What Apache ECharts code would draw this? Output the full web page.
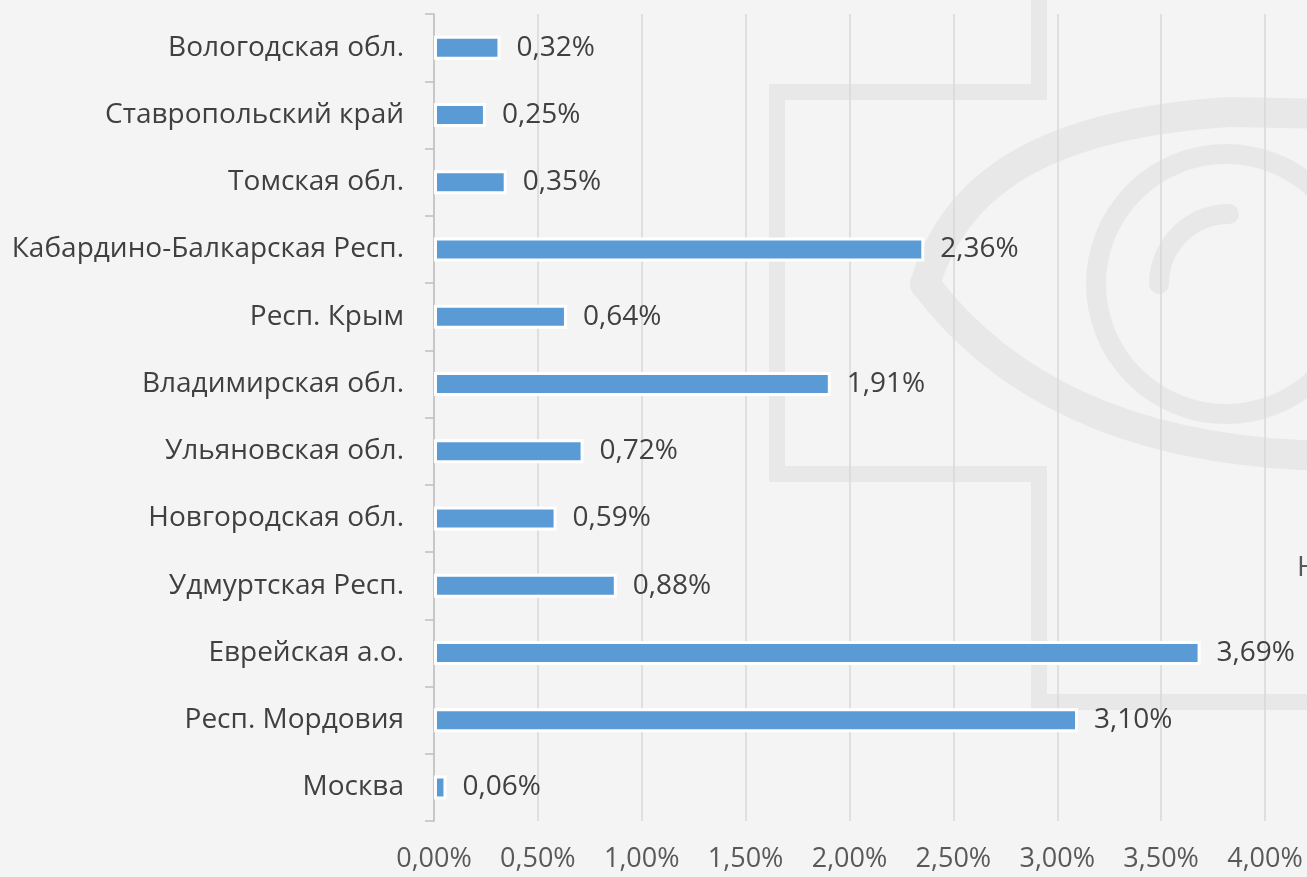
<!DOCTYPE html>
<html>
<head>
<meta charset="utf-8">
<script src="https://cdn.jsdelivr.net/npm/echarts@6/dist/echarts.min.js"></script>
<style>
  html, body { margin: 0; padding: 0; background: #f4f4f4; }
  #chart { width: 1307px; height: 877px; }
</style>
</head>
<body>
<div id="chart"></div>
<script>
  // bottom to top, as on the picture
  const regions = ['Москва', 'Респ. Мордовия', 'Еврейская а.о.', 'Удмуртская Респ.', 'Новгородская обл.',
    'Ульяновская обл.', 'Владимирская обл.', 'Респ. Крым', 'Кабардино-Балкарская Респ.',
    'Томская обл.', 'Ставропольский край', 'Вологодская обл.'];
  const shares = [0.06, 3.10, 3.69, 0.88, 0.59, 0.72, 1.91, 0.64, 2.36, 0.35, 0.25, 0.32];

  const fmt = v => v.toFixed(2).replace('.', ',') + '%';
  const font = '"Open Sans", "DejaVu Sans", sans-serif';
  const wm = '#e8e8e8';

  const chart = echarts.init(document.getElementById('chart'));
  chart.setOption({
    backgroundColor: '#f4f4f4',
    animation: false,
    textStyle: { fontFamily: font },
    graphic: [
      // watermark behind the plot
      { type: 'polyline', z: -10, silent: true,
        shape: { points: [[1039, -10], [1039, 92], [777, 92], [777, 474], [1039, 474], [1039, 702], [1320, 702]] },
        style: { stroke: wm, lineWidth: 16, fill: null } },
      { type: 'bezierCurve', z: -10, silent: true,
        shape: { x1: 925, y1: 284, cpx1: 950, cpy1: 200, cpx2: 1020, cpy2: 125, x2: 1230, y2: 112 },
        style: { stroke: wm, lineWidth: 30, fill: null, lineCap: 'round' } },
      { type: 'bezierCurve', z: -10, silent: true,
        shape: { x1: 925, y1: 284, cpx1: 990, cpy1: 370, cpx2: 1100, cpy2: 445, x2: 1300, y2: 455 },
        style: { stroke: wm, lineWidth: 30, fill: null, lineCap: 'round' } },
      { type: 'line', z: -10, silent: true,
        shape: { x1: 1230, y1: 112, x2: 1340, y2: 114 },
        style: { stroke: wm, lineWidth: 30 } },
      { type: 'line', z: -10, silent: true,
        shape: { x1: 1300, y1: 455, x2: 1340, y2: 455 },
        style: { stroke: wm, lineWidth: 30 } },
      { type: 'circle', z: -10, silent: true,
        shape: { cx: 1226, cy: 284, r: 130 },
        style: { stroke: wm, lineWidth: 20, fill: null } },
      { type: 'arc', z: -10, silent: true,
        shape: { cx: 1229, cy: 284, r: 70, startAngle: Math.PI, endAngle: Math.PI * 1.5 },
        style: { stroke: wm, lineWidth: 20, fill: null, lineCap: 'round' } },
      { type: 'text', z: -5, silent: true, left: 1297, top: 554,
        style: { text: 'Н', fill: '#595959', font: '28px ' + font } }
    ],
    grid: { left: 434, right: 42, top: 14, bottom: 56 },
    xAxis: {
      type: 'value',
      min: 0,
      max: 4,
      interval: 0.5,
      axisLine: { show: false },
      axisTick: { show: false },
      axisLabel: { formatter: fmt, color: '#595959', fontSize: 27, margin: 25 },
      splitLine: { lineStyle: { color: '#d9d9d9', width: 1.5 } }
    },
    yAxis: {
      type: 'category',
      data: regions,
      axisLine: { lineStyle: { color: '#bfbfbf', width: 1.5 } },
      axisTick: { show: true, length: 9, lineStyle: { color: '#bfbfbf', width: 1.5 } },
      axisLabel: { color: '#404040', fontSize: 28, margin: 30 }
    },
    series: [{
      type: 'bar',
      data: shares,
      barWidth: 24,
      itemStyle: { color: '#5b9bd5', borderColor: '#ffffff', borderWidth: 3 },
      label: {
        show: true,
        position: 'right',
        distance: 16,
        color: '#404040',
        fontSize: 28,
        formatter: p => fmt(p.value)
      }
    }]
  });
</script>
</body>
</html>
